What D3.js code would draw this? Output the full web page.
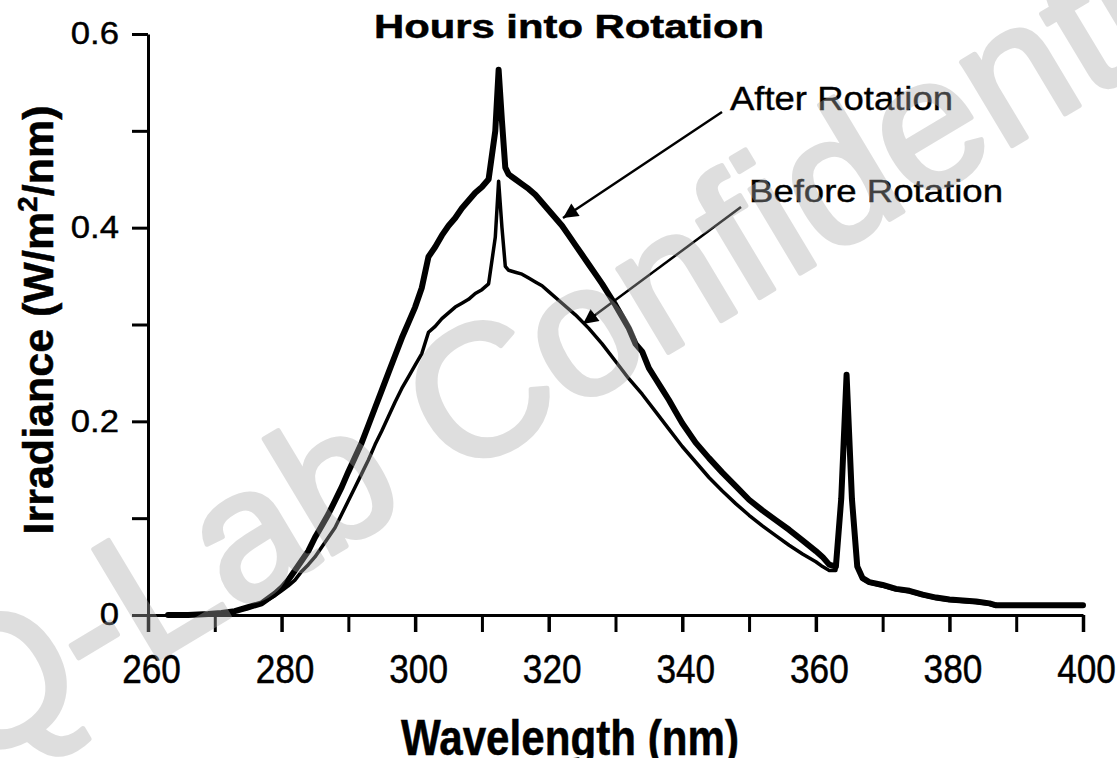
<!DOCTYPE html>
<html>
<head>
<meta charset="utf-8">
<script src="https://cdn.jsdelivr.net/npm/d3@7"></script>
<style>
  body { margin: 0; background: #fff; overflow: hidden; }
  text { font-family: "Liberation Sans", Arial, Helvetica, sans-serif; fill: #000; }
</style>
</head>
<body>
<svg id="chart"></svg>
<script>
// wavelength (nm) and irradiance (W/m2/nm)
var afterNm = [263, 266, 269, 271, 273, 275, 277, 279, 280, 281, 282, 283, 284, 285, 286, 287, 288, 289, 290,
    291, 292, 293, 294, 295, 296, 297, 298, 299, 300, 301, 302, 303, 304, 305, 306, 307, 308, 309, 310,
    311, 312, 312.5, 313, 313.5, 314, 315, 316, 317, 318, 319, 320, 321, 322, 323, 324, 325, 326, 327, 328, 329, 330,
    331, 332, 333, 334, 335, 336, 337, 338, 339, 340, 342, 344, 346, 348, 350, 352, 354, 356, 358, 360,
    361, 362, 363, 363.8, 364.6, 365.4, 366.2, 367, 368, 370, 372, 374, 376, 378, 380, 382, 384, 386, 387, 400];
var afterVal = [0, 0, 0.001, 0.002, 0.004, 0.008, 0.012, 0.022, 0.028, 0.036, 0.046, 0.056, 0.066, 0.08, 0.092, 0.104, 0.118, 0.132, 0.148,
    0.163, 0.178, 0.196, 0.214, 0.232, 0.25, 0.268, 0.286, 0.302, 0.318, 0.338, 0.37, 0.38, 0.392, 0.402, 0.41, 0.42, 0.428, 0.436, 0.442,
    0.45, 0.5, 0.563, 0.51, 0.462, 0.455, 0.45, 0.445, 0.44, 0.434, 0.426, 0.418, 0.41, 0.402, 0.392, 0.382, 0.372, 0.362, 0.352, 0.342, 0.331, 0.32,
    0.308, 0.296, 0.28, 0.272, 0.255, 0.244, 0.233, 0.222, 0.21, 0.198, 0.178, 0.162, 0.147, 0.133, 0.119, 0.108, 0.098, 0.088, 0.077, 0.066,
    0.06, 0.052, 0.05, 0.12, 0.248, 0.12, 0.05, 0.038, 0.034, 0.031, 0.027, 0.025, 0.021, 0.018, 0.016, 0.015, 0.014, 0.012, 0.01, 0.01];

var beforeNm = [263, 266, 269, 271, 273, 275, 277, 279, 280, 281, 282, 283, 284, 285, 286, 287, 288, 289, 290,
    291, 292, 293, 294, 295, 296, 297, 298, 299, 300, 301, 302, 303, 304, 305, 306, 307, 308, 309, 310,
    311, 312, 312.5, 313, 313.5, 314, 315, 316, 317, 318, 319, 320, 322, 324, 326, 328, 330, 332, 334, 336, 338, 340,
    342, 344, 346, 348, 350, 352, 354, 356, 358, 360, 361, 362, 363, 363.8, 364.6, 365.4, 366.2, 367, 368,
    370, 372, 374, 376, 378, 380, 382, 384, 386, 387, 400];
var beforeVal = [0, 0, 0.001, 0.002, 0.004, 0.007, 0.012, 0.02, 0.025, 0.03, 0.036, 0.045, 0.052, 0.06, 0.07, 0.08, 0.09, 0.104, 0.118,
    0.132, 0.146, 0.16, 0.176, 0.19, 0.205, 0.22, 0.234, 0.246, 0.258, 0.27, 0.292, 0.298, 0.306, 0.312, 0.318, 0.322, 0.326, 0.332, 0.336,
    0.342, 0.39, 0.448, 0.4, 0.36, 0.356, 0.354, 0.352, 0.348, 0.344, 0.34, 0.334, 0.322, 0.31, 0.296, 0.28, 0.262, 0.244, 0.228, 0.21, 0.192, 0.174,
    0.158, 0.142, 0.128, 0.115, 0.103, 0.092, 0.082, 0.072, 0.063, 0.055, 0.05, 0.046, 0.046, 0.12, 0.245, 0.12, 0.05, 0.037, 0.033,
    0.03, 0.026, 0.024, 0.02, 0.017, 0.015, 0.014, 0.013, 0.011, 0.009, 0.009];

var xTicks = [260, 270, 280, 290, 300, 310, 320, 330, 340, 350, 360, 370, 380, 390, 400];
var xLabels = [260, 280, 300, 320, 340, 360, 380, 400];
var yTicks = [0, 0.1, 0.2, 0.3, 0.4, 0.5, 0.6];
var yLabels = [0, 0.2, 0.4, 0.6];

var width = 1117,
    height = 758;

var svg = d3.select("#chart")
    .attr("width", width)
    .attr("height", height);

svg.append("rect").attr("width", width).attr("height", height).attr("fill", "#fff");

var x = d3.scaleLinear().domain([260, 400]).range([148, 1083]);
var y = d3.scaleLinear().domain([0, 0.6]).range([615, 34]);

// x axis: every 10 nm a tick, labels every 20
var xAxis = svg.append("g")
    .attr("transform", "translate(0," + y(0) + ")")
    .call(d3.axisBottom(x).tickValues(xTicks).tickSize(17).tickSizeOuter(0).tickFormat(""));
xAxis.select(".domain").attr("stroke-width", 3);
xAxis.selectAll(".tick line").attr("stroke-width", function(d) { return d % 20 === 0 ? 3.5 : 3; });

svg.append("g")
    .attr("transform", "translate(3," + y(0) + ")")
    .call(d3.axisBottom(x).tickValues(xLabels).tickSize(0).tickPadding(40).tickFormat(d3.format("d")))
    .call(function(g) { g.select(".domain").remove(); })
    .selectAll("text")
    .attr("font-size", 40)
    .attr("font-family", "Liberation Sans, Arial, sans-serif")
    .attr("stroke", "#000")
    .attr("stroke-width", 0.5)
    .attr("transform", "scale(0.88,1)");

var yAxis = svg.append("g")
    .attr("transform", "translate(" + x(260) + ",0)")
    .call(d3.axisLeft(y).tickValues(yTicks).tickSize(16).tickSizeOuter(0).tickFormat(""));
yAxis.select(".domain").attr("stroke-width", 3);
yAxis.selectAll(".tick line").attr("stroke-width", 3);

svg.append("g")
    .attr("transform", "translate(" + x(260) + ",0)")
    .call(d3.axisLeft(y).tickValues(yLabels).tickSize(0).tickPadding(29).tickFormat(function(d) { return d === 0 ? "0" : d3.format(".1f")(d); }))
    .call(function(g) { g.select(".domain").remove(); })
    .selectAll("text")
    .attr("font-size", 31)
    .attr("font-family", "Liberation Sans, Arial, sans-serif")
    .attr("stroke", "#000")
    .attr("stroke-width", 0.4)
    .attr("transform", "scale(1.12,1)")
    .attr("x", -29 / 1.12);

var line = d3.line()
    .x(function(d) { return x(d[0]); })
    .y(function(d) { return y(d[1]); });

var beforeData = d3.zip(beforeNm, beforeVal);
var afterData = d3.zip(afterNm, afterVal);

svg.append("path")
    .datum(beforeData)
    .attr("d", line)
    .attr("fill", "none")
    .attr("stroke", "#000")
    .attr("stroke-width", 3.5)
    .attr("stroke-linejoin", "round");

svg.append("path")
    .datum(afterData)
    .attr("d", line)
    .attr("fill", "none")
    .attr("stroke", "#000")
    .attr("stroke-width", 6)
    .attr("stroke-linejoin", "round")
    .attr("stroke-linecap", "round");

// arrows
svg.append("defs").append("marker")
    .attr("id", "head")
    .attr("viewBox", "0 0 10 10")
    .attr("refX", 10)
    .attr("refY", 5)
    .attr("markerWidth", 8)
    .attr("markerHeight", 6)
    .attr("markerUnits", "strokeWidth")
    .attr("orient", "auto")
    .append("path")
    .attr("d", "M0,0L10,5L0,10Z")
    .attr("fill", "#000");

svg.append("line")
    .attr("x1", 722).attr("y1", 112).attr("x2", 563).attr("y2", 218)
    .attr("stroke", "#000").attr("stroke-width", 2.5)
    .attr("marker-end", "url(#head)");

svg.append("line")
    .attr("x1", 741).attr("y1", 207).attr("x2", 583).attr("y2", 324)
    .attr("stroke", "#000").attr("stroke-width", 2.5)
    .attr("marker-end", "url(#head)");

svg.append("text")
    .attr("x", 730).attr("y", 110)
    .attr("font-size", 33)
    .attr("stroke", "#000").attr("stroke-width", 0.4)
    .attr("textLength", 223).attr("lengthAdjust", "spacingAndGlyphs")
    .text("After Rotation");

svg.append("text")
    .attr("x", 749).attr("y", 202)
    .attr("font-size", 32)
    .attr("stroke", "#000").attr("stroke-width", 0.4)
    .attr("textLength", 254).attr("lengthAdjust", "spacingAndGlyphs")
    .text("Before Rotation");

svg.append("text")
    .attr("x", 374).attr("y", 38)
    .attr("font-size", 33)
    .attr("font-weight", "bold")
    .attr("stroke", "#000").attr("stroke-width", 0.5)
    .attr("textLength", 390).attr("lengthAdjust", "spacingAndGlyphs")
    .text("Hours into Rotation");

// x title sits low, its descenders run off the bottom edge as in the figure
svg.append("text")
    .attr("x", 401).attr("y", 755)
    .attr("font-size", 50)
    .attr("font-weight", "bold")
    .attr("stroke", "#000").attr("stroke-width", 0.5)
    .attr("textLength", 338).attr("lengthAdjust", "spacingAndGlyphs")
    .text("Wavelength (nm)");

var yTitle = svg.append("text")
    .attr("transform", "translate(53,320) rotate(-90)")
    .attr("text-anchor", "middle")
    .attr("font-size", 43)
    .attr("font-weight", "bold")
    .attr("stroke", "#000").attr("stroke-width", 0.5);
yTitle.append("tspan").text("Irradiance (W/m");
yTitle.append("tspan").attr("font-size", 28).attr("dy", -16).text("2");
yTitle.append("tspan").attr("dy", 16).text("/nm)");

// watermark over everything, translucent grey
svg.append("g")
    .attr("opacity", 0.38)
    .append("text")
    .attr("transform", "translate(-30,772) rotate(-31)")
    .attr("font-size", 185)
    .style("fill", "rgb(170,170,170)")
    .attr("stroke", "rgb(170,170,170)")
    .attr("stroke-width", 5)
    .attr("stroke-linejoin", "round")
    .text("Q-Lab Confidential");
</script>
</body>
</html>
